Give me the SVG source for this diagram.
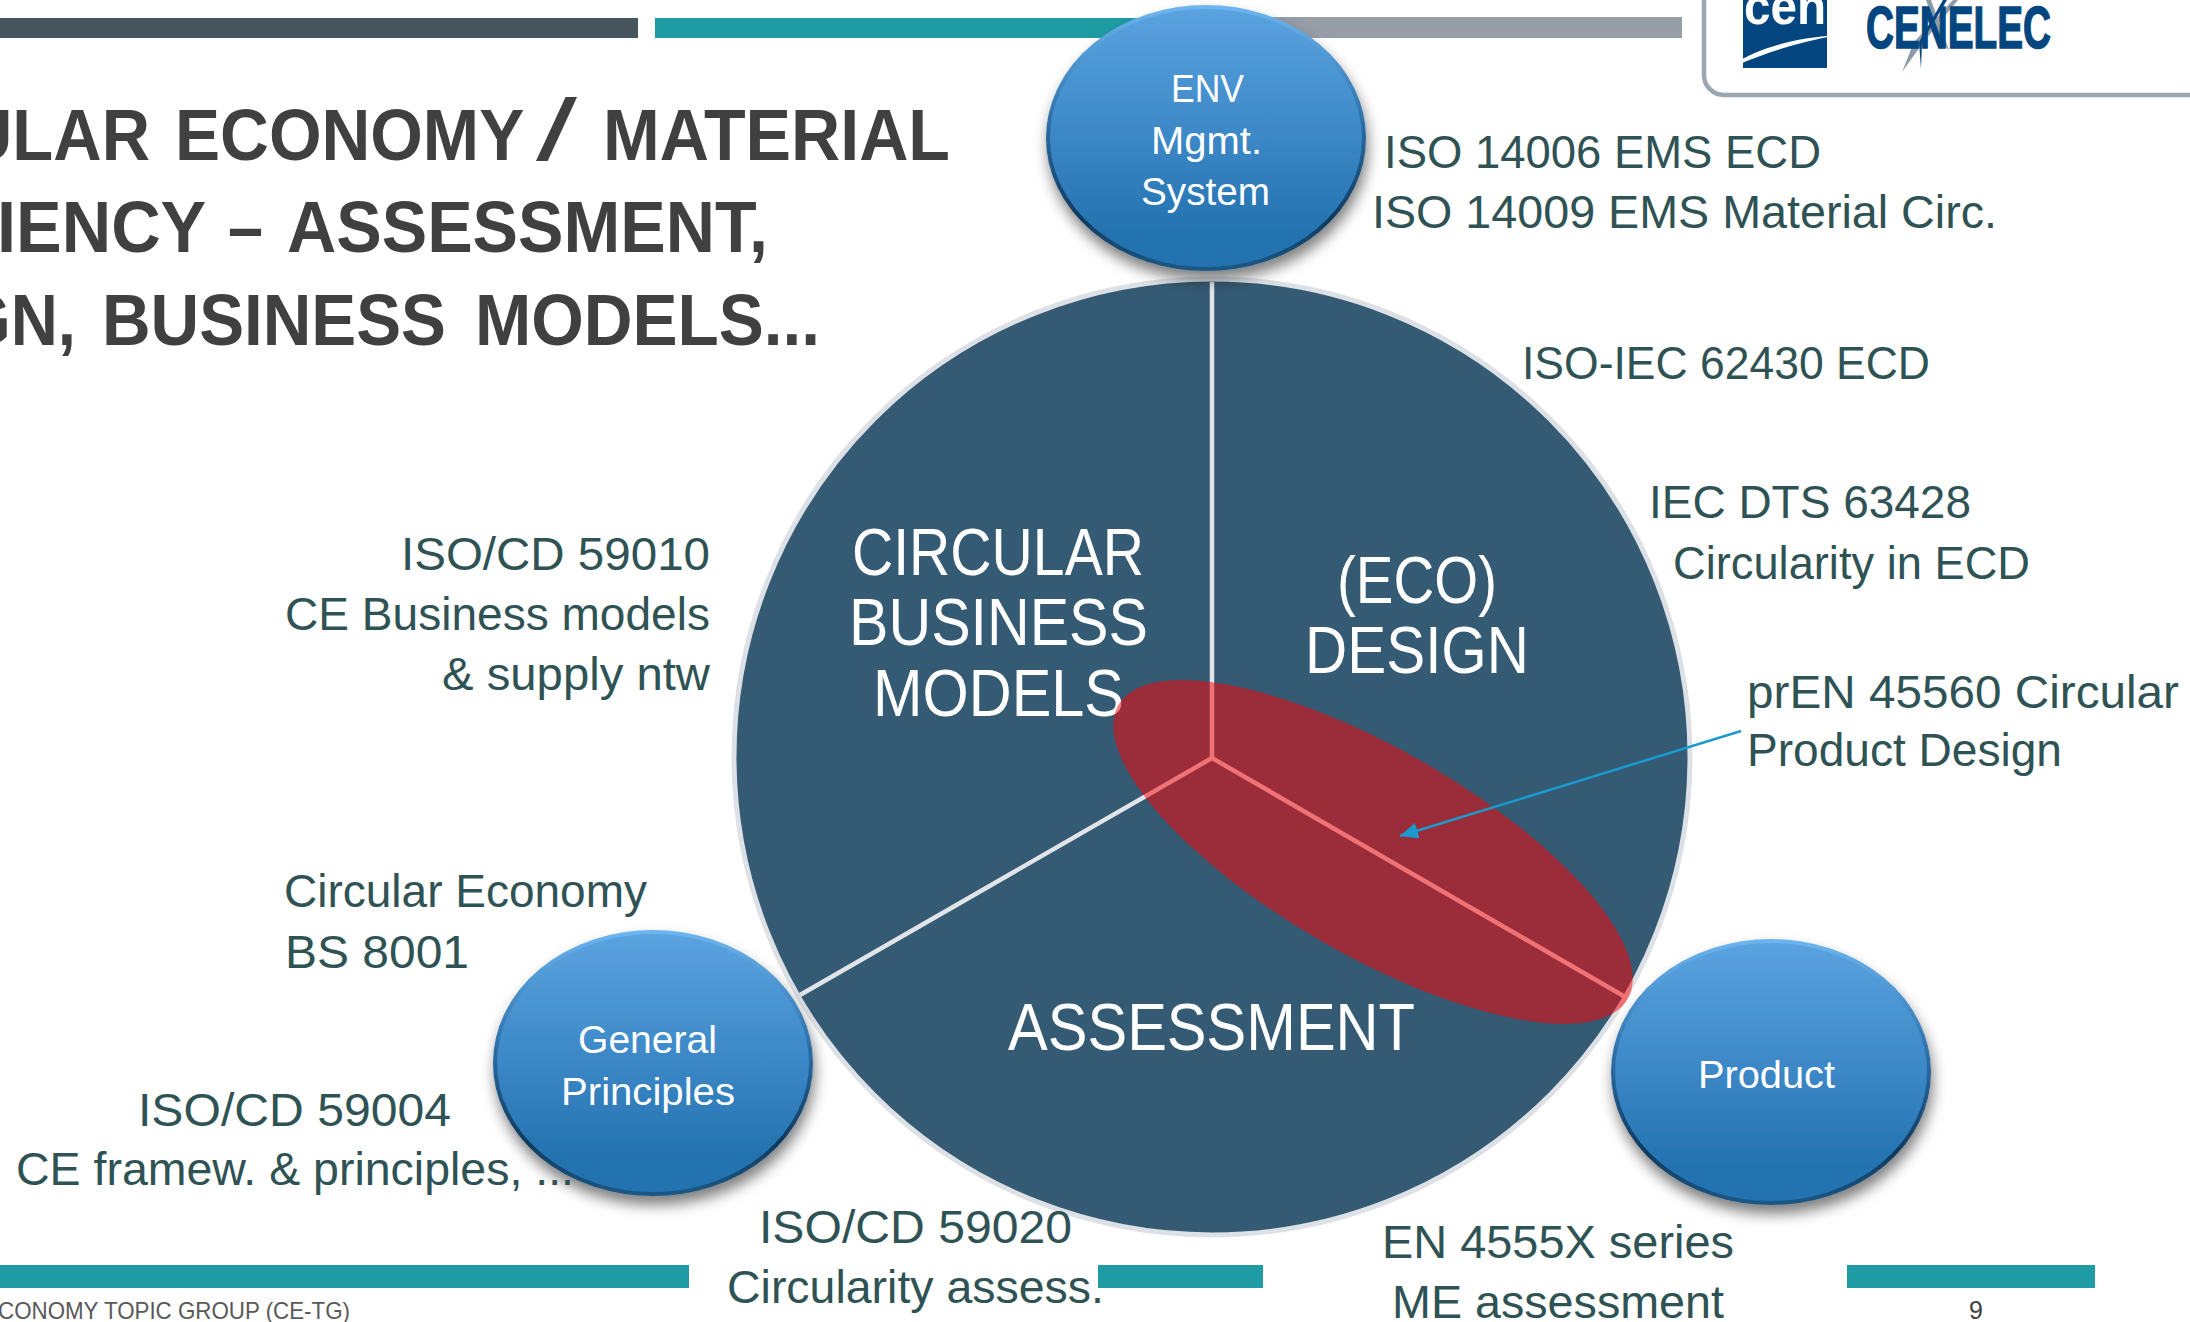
<svg xmlns="http://www.w3.org/2000/svg" width="2190" height="1322" viewBox="0 0 2190 1322">
<style>
text{font-family:"Liberation Sans",Arial,sans-serif}
.l{font-size:46px;fill:#2f5355}
.t{font-size:73px;font-weight:700;fill:#404040}
.w{font-size:66px;fill:#fff}
.n{font-size:39px;fill:#fff}
.e{fill:url(#nf);stroke:url(#ns);stroke-width:4;filter:url(#sh)}
.bar{fill:#1f9ca3}
.sp{stroke:#e1e5ea;stroke-width:4.5;fill:none}
</style>
<defs>
<linearGradient id="nf" x1="0" y1="0" x2="0" y2="1"><stop offset="0" stop-color="#5aa3e0"/><stop offset=".5" stop-color="#3c87c6"/><stop offset=".85" stop-color="#2473b0"/><stop offset="1" stop-color="#2473b0"/></linearGradient>
<linearGradient id="ns" x1="0" y1="0" x2="0" y2="1"><stop offset="0" stop-color="#6db5f0"/><stop offset=".45" stop-color="#2b6da6"/><stop offset=".8" stop-color="#0f3a5e"/><stop offset="1" stop-color="#1c5784"/></linearGradient>
<filter id="sh" x="-20%" y="-20%" width="140%" height="140%"><feDropShadow dx="2" dy="9" stdDeviation="7" flood-color="#000" flood-opacity=".5"/></filter>
<marker id="ah" markerUnits="userSpaceOnUse" markerWidth="20" markerHeight="16" refX="18" refY="8" orient="auto"><path d="M0 0L18 8L0 16z" fill="#1a9bd0"/></marker>
<clipPath id="cenclip"><rect x="1743" y="0" width="84" height="68"/></clipPath>
</defs>
<g id="header">
<rect x="0" y="18" width="638" height="20" fill="#47565d"/>
<rect x="655" y="18" width="600" height="20" fill="#1f9ca3"/>
<rect x="1255" y="17" width="427" height="21" fill="#989ea8"/>
<text class="t" y="160"><tspan x="-36" textLength="186" lengthAdjust="spacingAndGlyphs">ULAR</tspan> <tspan x="175" textLength="348" lengthAdjust="spacingAndGlyphs">ECONOMY</tspan> <tspan x="536" y="160" font-size="88" font-weight="400" textLength="41" lengthAdjust="spacingAndGlyphs">/</tspan> <tspan x="603" y="160" textLength="347" lengthAdjust="spacingAndGlyphs">MATERIAL</tspan></text>
<text class="t" y="252"><tspan x="-3" textLength="208" lengthAdjust="spacingAndGlyphs">IENCY</tspan> <tspan x="228" textLength="35" lengthAdjust="spacingAndGlyphs">–</tspan> <tspan x="287" textLength="481" lengthAdjust="spacingAndGlyphs">ASSESSMENT,</tspan></text>
<text class="t" y="345"><tspan x="-40" textLength="116" lengthAdjust="spacingAndGlyphs">GN,</tspan> <tspan x="102" textLength="344" lengthAdjust="spacingAndGlyphs">BUSINESS</tspan> <tspan x="475" textLength="345" lengthAdjust="spacingAndGlyphs">MODELS...</tspan></text>
</g>
<g id="logo">
<rect x="1704" y="-30" width="520" height="125" rx="20" fill="#fff" stroke="#9ca6af" stroke-width="4.5"/>
<rect x="1743" y="0" width="84" height="68" fill="#03467f"/>
<text x="1785" y="24" font-size="52" font-weight="700" fill="#fff" text-anchor="middle" textLength="82" lengthAdjust="spacingAndGlyphs" clip-path="url(#cenclip)">cen</text>
<path d="M1732 65C1760 47 1795 38 1837 35C1800 42 1768 52 1737 65z" fill="#fff"/>
<path d="M1926 0L1931 0L1949 50L1942 44z" fill="#8f9ba8"/>
<path d="M1953 0L1958 0L1925 40L1902 72L1914 42z" fill="#8f9ba8"/>
<text x="1866" y="48" font-size="59" font-weight="700" fill="#03467f" stroke="#03467f" stroke-width="1.5" textLength="185" lengthAdjust="spacingAndGlyphs">CENELEC</text>
<path d="M1943 0L1947 0L1922 42L1921 69L1919 42z" fill="#03467f"/>
</g>
<g id="wheel">
<circle cx="1212" cy="757" r="478" fill="#355a73" stroke="#dde1e6" stroke-width="5"/>
</g>
<g id="connectors">
<path class="sp" d="M1212 282V758L800 995M1212 758L1627 998"/>
</g>
<g id="business"><text class="w" x="852" y="575" textLength="292" lengthAdjust="spacingAndGlyphs">CIRCULAR</text><text class="w" x="849" y="645" textLength="299" lengthAdjust="spacingAndGlyphs">BUSINESS</text><text class="w" x="873" y="716" textLength="251" lengthAdjust="spacingAndGlyphs">MODELS</text></g>
<g id="design"><text class="w" x="1337" y="603" textLength="160" lengthAdjust="spacingAndGlyphs">(ECO)</text><text class="w" x="1305" y="673" textLength="224" lengthAdjust="spacingAndGlyphs">DESIGN</text></g>
<g id="assessment"><text class="w" x="1008" y="1050" textLength="407" lengthAdjust="spacingAndGlyphs">ASSESSMENT</text></g>
<g id="overlap"><ellipse cx="1373" cy="852" rx="294" ry="103" transform="rotate(30 1373 852)" fill="#ff0000" fill-opacity=".5"/></g>
<g id="node-env"><ellipse class="e" cx="1206" cy="138" rx="158" ry="131"/><text class="n" x="1171" y="102" textLength="73" lengthAdjust="spacingAndGlyphs">ENV</text><text class="n" x="1151" y="154" textLength="111" lengthAdjust="spacingAndGlyphs">Mgmt.</text><text class="n" x="1141" y="205" textLength="129" lengthAdjust="spacingAndGlyphs">System</text></g>
<g id="node-general"><ellipse class="e" cx="653" cy="1063" rx="158" ry="131"/><text class="n" x="578" y="1053" textLength="139" lengthAdjust="spacingAndGlyphs">General</text><text class="n" x="561" y="1105" textLength="174" lengthAdjust="spacingAndGlyphs">Principles</text></g>
<g id="node-product"><ellipse class="e" cx="1771" cy="1072" rx="158" ry="131"/><text class="n" x="1698" y="1088" textLength="137" lengthAdjust="spacingAndGlyphs">Product</text></g>
<g id="labels">
<text class="l" x="1384" y="168" textLength="437" lengthAdjust="spacingAndGlyphs">ISO 14006 EMS ECD</text>
<text class="l" x="1372" y="228" textLength="625" lengthAdjust="spacingAndGlyphs">ISO 14009 EMS Material Circ.</text>
<text class="l" x="1522" y="379" textLength="408" lengthAdjust="spacingAndGlyphs">ISO-IEC 62430 ECD</text>
<text class="l" x="1649" y="518" textLength="322" lengthAdjust="spacingAndGlyphs">IEC DTS 63428</text>
<text class="l" x="1673" y="579" textLength="357" lengthAdjust="spacingAndGlyphs">Circularity in ECD</text>
<text class="l" x="1747" y="708" textLength="432" lengthAdjust="spacingAndGlyphs">prEN 45560 Circular</text>
<text class="l" x="1747" y="766" textLength="315" lengthAdjust="spacingAndGlyphs">Product Design</text>
<text class="l" x="401" y="570" textLength="309" lengthAdjust="spacingAndGlyphs">ISO/CD 59010</text>
<text class="l" x="285" y="630" textLength="425" lengthAdjust="spacingAndGlyphs">CE Business models</text>
<text class="l" x="442" y="690" textLength="268" lengthAdjust="spacingAndGlyphs">&amp; supply ntw</text>
<text class="l" x="284" y="907" textLength="363" lengthAdjust="spacingAndGlyphs">Circular Economy</text>
<text class="l" x="285" y="968" textLength="184" lengthAdjust="spacingAndGlyphs">BS 8001</text>
<text class="l" x="138" y="1126" textLength="313" lengthAdjust="spacingAndGlyphs">ISO/CD 59004</text>
<text class="l" x="16" y="1185" textLength="558" lengthAdjust="spacingAndGlyphs">CE framew. &amp; principles, ...</text>
<text class="l" x="759" y="1243" textLength="313" lengthAdjust="spacingAndGlyphs">ISO/CD 59020</text>
<text class="l" x="727" y="1303" textLength="377" lengthAdjust="spacingAndGlyphs">Circularity assess.</text>
<text class="l" x="1382" y="1258" textLength="352" lengthAdjust="spacingAndGlyphs">EN 4555X series</text>
<text class="l" x="1392" y="1318" textLength="332" lengthAdjust="spacingAndGlyphs">ME assessment</text>
</g>
<g id="footer">
<rect class="bar" x="0" y="1265" width="689" height="23"/>
<rect class="bar" x="1098" y="1265" width="165" height="23"/>
<rect class="bar" x="1847" y="1265" width="248" height="23"/>
<text x="-2" y="1319" font-size="24" fill="#595959" textLength="352" lengthAdjust="spacingAndGlyphs">CONOMY TOPIC GROUP (CE-TG)</text>
<text x="1969" y="1319" font-size="25" fill="#404040">9</text>
</g>
<g id="arrow"><path d="M1741 731L1400 836" stroke="#1a9bd0" stroke-width="2.5" fill="none" marker-end="url(#ah)"/></g>
</svg>
